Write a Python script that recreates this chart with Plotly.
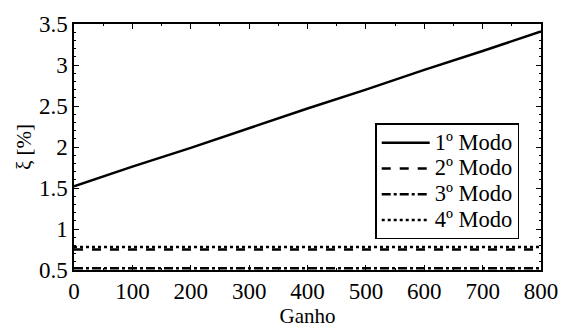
import plotly.graph_objects as go

ganho = [0, 100, 200, 300, 400, 500, 600, 700, 800]
modo1 = [1.52, 1.76, 1.99, 2.23, 2.47, 2.70, 2.94, 3.17, 3.41]
modo2 = [0.75, 0.75, 0.75, 0.75, 0.75, 0.75, 0.75, 0.75, 0.75]
modo3 = [0.52, 0.52, 0.52, 0.52, 0.52, 0.52, 0.52, 0.52, 0.52]
modo4 = [0.78, 0.78, 0.78, 0.78, 0.78, 0.78, 0.78, 0.78, 0.78]
nomes = ["1º Modo", "2º Modo", "3º Modo", "4º Modo"]
estilos = ["solid", "dash", "dashdot", "dot"]

fig = go.Figure()
for nome, ys, dash in zip(nomes, [modo1, modo2, modo3, modo4], estilos):
    # larger glyphs than the legend's nominal size keep the rows compact
    rotulo = f'<span style="font-size:22.5px">{nome}</span>'
    fig.add_trace(go.Scatter(x=ganho, y=ys, mode="lines", name=rotulo,
                             line=dict(color="black", width=2.5, dash=dash)))

font = "Liberation Serif"
axis_common = dict(
    showgrid=False, zeroline=False, mirror="allticks", ticks="inside",
    ticklen=5, tickwidth=1, tickcolor="black", showline=True,
    linecolor="black", linewidth=1.5,
    tickfont=dict(family=font, size=23, color="black"),
)
fig.update_layout(
    width=570, height=331,
    margin=dict(l=74, r=23, t=14, b=59),
    paper_bgcolor="white", plot_bgcolor="white",
    font=dict(family=font, color="black"),
    xaxis=dict(range=[0, 800], dtick=100, tick0=0,
               minor=dict(ticks="inside", dtick=50, ticklen=2, tickcolor="black"),
               title=dict(text="Ganho", font=dict(family=font, size=21), standoff=0),
               **axis_common),
    yaxis=dict(range=[0.5, 3.5], dtick=0.5, tick0=0.5,
               minor=dict(ticks="inside", dtick=0.1, ticklen=2, tickcolor="black"),
               title=dict(text="ξ [%]", font=dict(family=font, size=21), standoff=2),
               **axis_common),
    legend=dict(x=0.645, y=0.596, xanchor="left", yanchor="top",
                bgcolor="white", bordercolor="black", borderwidth=1.5,
                font=dict(family=font, size=17.5, color="black"),
                tracegroupgap=0, itemwidth=48),
)
fig.write_html("out.html")
